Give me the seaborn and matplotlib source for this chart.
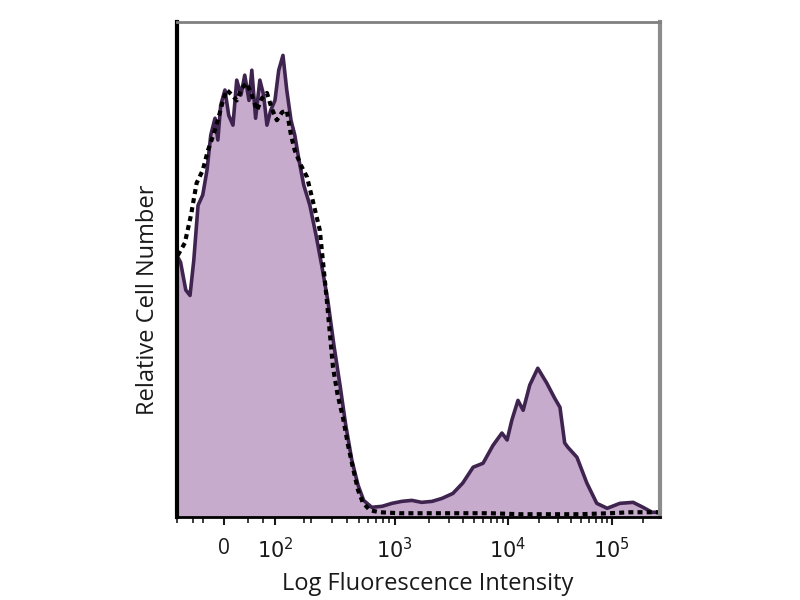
import numpy as np
import pandas as pd
import matplotlib
matplotlib.use("Agg")
import matplotlib.pyplot as plt
import seaborn as sns

sns.set_style("white")
plt.rcParams['font.family'] = ['Open Sans', 'DejaVu Sans']
plt.rcParams['text.color'] = '#1a1a1a'
plt.rcParams['axes.labelcolor'] = '#1a1a1a'

# display channel (0-1024, biexponential axis) and relative counts (0-100)
stained_x = [0, 8, 19, 28, 36, 45, 55, 64, 72, 81, 87, 93, 102, 110, 119, 127, 136, 144,
             153, 159, 167, 176, 184, 191, 199, 208, 216, 225, 233, 242, 250, 259, 269,
             282, 295, 307, 320, 333, 346, 358, 371, 384, 396, 413, 435, 456, 477, 498,
             519, 541, 562, 585, 606, 628, 649, 670, 689, 700, 710, 723, 734, 748, 765,
             784, 801, 812, 822, 829, 848, 869, 890, 912, 939, 967, 988, 1007, 1024]
stained_y = [52.9, 51.5, 45.9, 44.8, 51.9, 63.0, 65.1, 70.1, 77.2, 80.6, 76.2, 83.2, 86.3,
             81.2, 79.2, 88.3, 85.3, 89.3, 84.2, 90.3, 80.6, 88.3, 85.3, 79.2, 82.2, 84.2,
             90.3, 93.3, 86.3, 80.2, 77.2, 72.1, 67.1, 63.0, 57.0, 50.9, 43.8, 34.7, 26.6,
             18.6, 11.5, 6.5, 3.4, 2.0, 2.2, 2.8, 3.2, 3.4, 3.0, 3.2, 3.8, 4.8, 6.9, 10.1,
             10.9, 14.5, 17.0, 15.6, 19.6, 23.6, 21.6, 26.7, 30.1, 27.1, 24.0, 22.2, 15.0,
             14.1, 12.1, 6.9, 2.8, 1.8, 2.8, 3.0, 2.0, 1.0, 1.0]

control_x = [2, 17, 30, 42, 55, 66, 76, 87, 98, 106, 117, 127, 138, 148, 159, 170, 180,
             191, 201, 212, 223, 233, 242, 250, 263, 276, 288, 303, 318, 331, 341, 352,
             363, 373, 384, 394, 409, 430, 473, 536, 600, 664, 727, 791, 854, 918, 960, 1024]
control_y = [52.9, 55.4, 61.0, 67.5, 70.1, 74.1, 76.8, 80.2, 84.2, 86.3, 85.3, 84.2, 86.7,
             87.7, 85.3, 82.2, 84.6, 85.7, 82.6, 80.2, 81.8, 82.2, 77.2, 74.1, 71.1, 68.7,
             64.0, 58.0, 43.8, 30.3, 24.6, 20.2, 14.5, 10.1, 5.5, 3.0, 1.4, 1.0, 0.8, 0.8,
             0.8, 0.8, 0.6, 0.6, 0.6, 0.8, 1.0, 1.0]

tick_pos = [100, 208, 462, 702, 922]
tick_labels = ["0", "$10^2$", "$10^3$", "$10^4$", "$10^5$"]

stained = pd.DataFrame({"channel": stained_x, "count": stained_y})
control = pd.DataFrame({"channel": control_x, "count": control_y})

fig = plt.figure(figsize=(8, 6), dpi=100)
ax = fig.add_axes([0.221, 0.138, 0.604, 0.825])

ax.fill_between(stained["channel"], stained["count"], color="#c7abcd", lw=0)
sns.lineplot(data=stained, x="channel", y="count", ax=ax, color="#3f2450",
             lw=2.6, estimator=None, sort=False)
sns.lineplot(data=control, x="channel", y="count", ax=ax, color="black",
             lw=3, estimator=None, sort=False, linestyle=(0, (1.2, 1.0)))

ax.set_xlim(0, 1024)
ax.set_ylim(0, 100)

# minor ticks of the log decades plus a few in the linear region
minor = [0, 35, 55, 150, 183, 270]
for lo, hi in [(208, 462), (462, 702), (702, 922), (922, 1142)]:
    for k in range(2, 10):
        p = lo + np.log10(k) * (hi - lo)
        if p < 1024:
            minor.append(p)
ax.set_xticks(tick_pos)
ax.set_xticklabels(tick_labels, fontsize=15)
ax.set_xticks(minor, minor=True)
ax.tick_params(axis="x", which="major", direction="out", length=6, width=1.5,
               bottom=True, colors="#1a1a1a", pad=9)
ax.tick_params(axis="x", which="minor", direction="out", length=4, width=1.2,
               bottom=True, colors="#1a1a1a")
ax.set_yticks([])

ax.set_xlabel("Log Fluorescence Intensity", fontsize=17)
ax.set_ylabel("Relative Cell Number", fontsize=17)
ax.yaxis.set_label_coords(-0.035, 0.44)
ax.xaxis.set_label_coords(0.52, -0.11)

ax.spines["left"].set_color("black")
ax.spines["left"].set_linewidth(3)
ax.spines["bottom"].set_color("black")
ax.spines["bottom"].set_linewidth(2)
ax.spines["top"].set_color("#808080")
ax.spines["top"].set_linewidth(2)
ax.spines["right"].set_color("#8c8c8c")
ax.spines["right"].set_linewidth(3)

fig.savefig("out.png", dpi=100)
